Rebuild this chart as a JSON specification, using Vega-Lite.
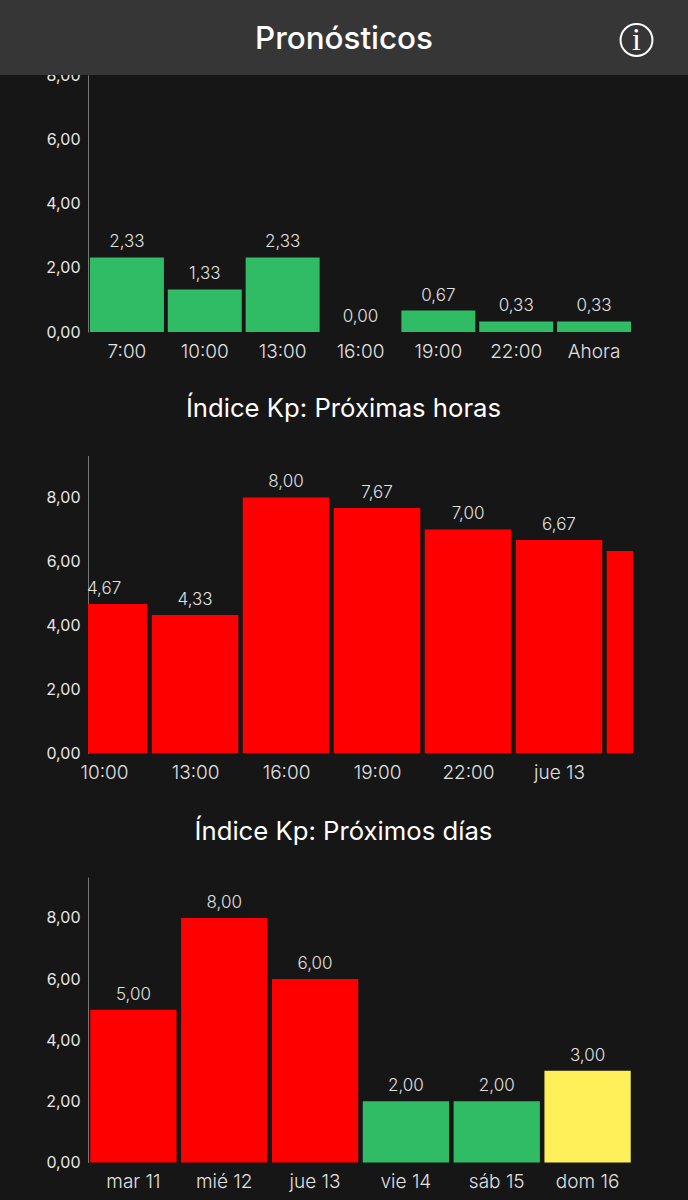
{
  "$schema": "https://vega.github.io/schema/vega-lite/v6.json",
  "background": "#161616",
  "padding": 0,
  "bounds": "flush",
  "spacing": -1200,
  "vconcat": [
    {
      "bounds": "flush",
      "spacing": 0,
      "hconcat": [
        {
          "width": 88,
          "height": 1200,
          "data": {"values": [{"gutter": ""}]},
          "mark": {"type": "text"},
          "encoding": {"text": {"field": "gutter"}}
        },
        {
          "bounds": "flush",
          "spacing": 0,
          "vconcat": [
            {
              "width": 545,
              "height": 75,
              "data": {"values": [{"gutter": ""}]},
              "mark": {"type": "text"},
              "encoding": {"text": {"field": "gutter"}}
            },
            {
              "bounds": "flush",
              "spacing": 123.5,
              "vconcat": [
                {
                  "width": 545,
                  "height": 257,
                  "data": {"values": [
                    {"hora": "7:00", "kp": 2.33, "nivel": "bajo"},
                    {"hora": "10:00", "kp": 1.33, "nivel": "bajo"},
                    {"hora": "13:00", "kp": 2.33, "nivel": "bajo"},
                    {"hora": "16:00", "kp": 0, "nivel": "bajo"},
                    {"hora": "19:00", "kp": 0.67, "nivel": "bajo"},
                    {"hora": "22:00", "kp": 0.33, "nivel": "bajo"},
                    {"hora": "Ahora", "kp": 0.33, "nivel": "bajo"}
                  ]},
                  "encoding": {
                    "x": {
                      "field": "hora", "type": "nominal", "sort": null, "title": null,
                      "scale": {"paddingInner": 0.05, "paddingOuter": 0.025}
                    },
                    "y": {
                      "field": "kp", "type": "quantitative", "title": null,
                      "scale": {"domain": [0, 8.03], "nice": false},
                      "axis": {"values": [0, 2, 4, 6, 8], "format": ".2f"}
                    }
                  },
                  "layer": [
                    {
                      "mark": {"type": "bar"},
                      "encoding": {
                        "color": {"field": "nivel", "type": "nominal", "legend": null, "scale": {"domain": ["bajo", "medio", "alto"], "range": ["#30BC64", "#FFF05A", "#FF0000"]}}
                      }
                    },
                    {
                      "mark": {"type": "text", "baseline": "bottom", "dy": -6, "fontSize": 17, "color": "#e0e0e0", "font": "Inter", "fontWeight": 300},
                      "encoding": {"text": {"field": "kp", "type": "quantitative", "format": ".2f"}}
                    }
                  ]
                },
                {
                  "width": 545,
                  "height": 298,
                  "title": {"text": "Índice Kp: Próximas horas", "dx": -17, "offset": 33},
                  "data": {"values": [
                    {"hora": 10, "kp": 4.67, "etiqueta": 4.67, "nivel": "alto"},
                    {"hora": 13, "kp": 4.33, "etiqueta": 4.33, "nivel": "alto"},
                    {"hora": 16, "kp": 8, "etiqueta": 8, "nivel": "alto"},
                    {"hora": 19, "kp": 7.67, "etiqueta": 7.67, "nivel": "alto"},
                    {"hora": 22, "kp": 7, "etiqueta": 7, "nivel": "alto"},
                    {"hora": 25, "kp": 6.67, "etiqueta": 6.67, "nivel": "alto"},
                    {"hora": 28, "kp": 6.33, "etiqueta": null, "nivel": "alto"}
                  ]},
                  "encoding": {
                    "x": {
                      "field": "hora", "type": "quantitative", "title": null,
                      "scale": {"domain": [9.47, 27.44], "nice": false, "zero": false, "padding": 0},
                      "axis": {"values": [10, 13, 16, 19, 22, 25], "labelExpr": "datum.value < 24 ? datum.value + ':00' : 'jue 13'"}
                    },
                    "y": {
                      "field": "kp", "type": "quantitative", "title": null,
                      "scale": {"domain": [0, 9.31], "nice": false},
                      "axis": {"values": [0, 2, 4, 6, 8], "format": ".2f"}
                    }
                  },
                  "layer": [
                    {
                      "mark": {"type": "bar", "clip": true, "size": 86.5},
                      "encoding": {
                        "color": {"field": "nivel", "type": "nominal", "legend": null, "scale": {"domain": ["bajo", "medio", "alto"], "range": ["#30BC64", "#FFF05A", "#FF0000"]}}
                      }
                    },
                    {
                      "transform": [{"filter": "datum.etiqueta !== null"}],
                      "mark": {"type": "text", "baseline": "bottom", "dy": -6, "fontSize": 17, "color": "#e0e0e0", "font": "Inter", "fontWeight": 300},
                      "encoding": {"text": {"field": "etiqueta", "type": "quantitative", "format": ".2f"}}
                    }
                  ]
                },
                {
                  "width": 545,
                  "height": 285.5,
                  "title": {"text": "Índice Kp: Próximos días", "dx": -17, "offset": 31},
                  "data": {"values": [
                    {"dia": "mar 11", "kp": 5, "nivel": "alto"},
                    {"dia": "mié 12", "kp": 8, "nivel": "alto"},
                    {"dia": "jue 13", "kp": 6, "nivel": "alto"},
                    {"dia": "vie 14", "kp": 2, "nivel": "bajo"},
                    {"dia": "sáb 15", "kp": 2, "nivel": "bajo"},
                    {"dia": "dom 16", "kp": 3, "nivel": "medio"}
                  ]},
                  "encoding": {
                    "x": {
                      "field": "dia", "type": "nominal", "sort": null, "title": null,
                      "scale": {"paddingInner": 0.05, "paddingOuter": 0.025}
                    },
                    "y": {
                      "field": "kp", "type": "quantitative", "title": null,
                      "scale": {"domain": [0, 9.34], "nice": false},
                      "axis": {"values": [0, 2, 4, 6, 8], "format": ".2f"}
                    }
                  },
                  "layer": [
                    {
                      "mark": {"type": "bar"},
                      "encoding": {
                        "color": {"field": "nivel", "type": "nominal", "legend": null, "scale": {"domain": ["bajo", "medio", "alto"], "range": ["#30BC64", "#FFF05A", "#FF0000"]}}
                      }
                    },
                    {
                      "mark": {"type": "text", "baseline": "bottom", "dy": -6, "fontSize": 17, "color": "#e0e0e0", "font": "Inter", "fontWeight": 300},
                      "encoding": {"text": {"field": "kp", "type": "quantitative", "format": ".2f"}}
                    }
                  ]
                }
              ]
            }
          ]
        }
      ]
    },
    {
      "width": 688,
      "height": 75,
      "view": {"fill": "#363636", "stroke": null},
      "data": {"values": [{"titulo": "Pronósticos", "icono": "i"}]},
      "layer": [
        {
          "mark": {"type": "text", "font": "Inter", "fontSize": 31.4, "fontWeight": 500, "color": "#ffffff", "dy": 2},
          "encoding": {"text": {"field": "titulo"}}
        },
        {
          "mark": {"type": "point", "shape": "circle", "size": 1018, "filled": false, "stroke": "#ffffff", "strokeWidth": 2, "opacity": 1, "xOffset": 292.5, "yOffset": 2.5},
          "encoding": {"detail": {"field": "icono"}}
        },
        {
          "mark": {"type": "text", "font": "Liberation Serif", "fontSize": 32, "fontWeight": "normal", "color": "#ffffff", "dx": 292.5, "dy": 2.5},
          "encoding": {"text": {"field": "icono"}}
        }
      ]
    }
  ],
  "config": {
    "locale": {"number": {"decimal": ",", "thousands": ".", "grouping": [3], "currency": ["", " €"]}},
    "view": {"stroke": null},
    "title": {"font": "Inter", "fontSize": 25.7, "fontWeight": 400, "color": "#ffffff", "anchor": "middle"},
    "axisX": {"domain": false, "ticks": false, "grid": false, "labelAngle": 0, "labelFont": "Inter", "labelFontSize": 19, "labelFontWeight": 300, "labelColor": "#e0e0e0", "labelPadding": 10, "labelFlush": false},
    "axisY": {"domain": true, "domainColor": "#777777", "domainWidth": 1, "ticks": false, "grid": false, "labelFont": "Inter", "labelFontSize": 16, "labelFontWeight": 400, "labelColor": "#e6e6e6", "labelPadding": 8}
  }
}
